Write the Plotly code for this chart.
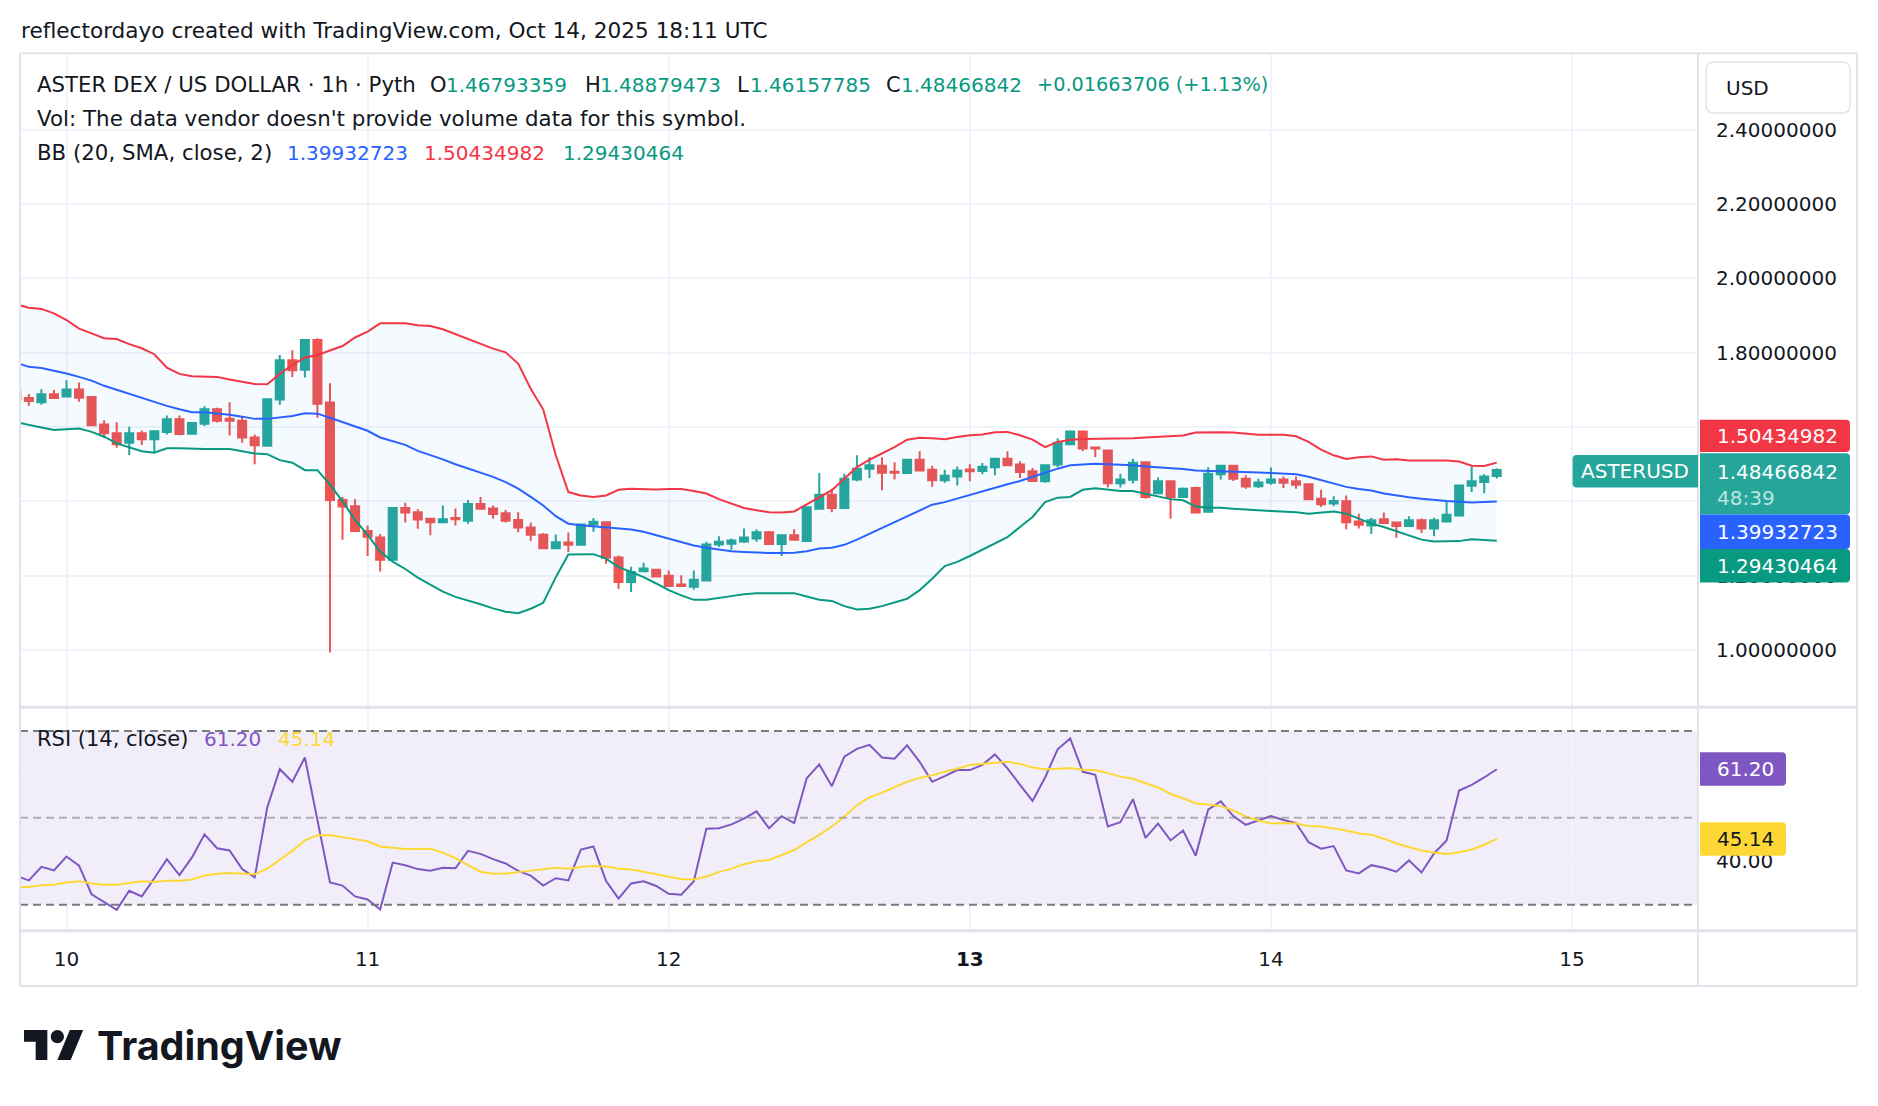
import plotly.graph_objects as go
import pandas as pd

W, H = 1878, 1106
FONT = "DejaVu Sans"
TXT = "#131722"
UP, DOWN = "#26a69a", "#ef5350"
BB_UP, BB_MID, BB_LO = "#f23645", "#2962ff", "#089981"
RSI_C, MA_C = "#7e57c2", "#fdd835"
GRID = "#f0f3fa"
FRAME = "#e0e3eb"

# ---------------- data (hourly bars, Oct 9 20:00 UTC -> Oct 14 18:00 UTC) ----------------
bar_start = "2025-10-09 20:00"

open_ = [1.695, 1.678, 1.667, 1.688, 1.682, 1.701, 1.681, 1.607, 1.583, 1.558,
         1.583, 1.567, 1.587, 1.621, 1.582, 1.609, 1.648, 1.622, 1.617, 1.572,
         1.550, 1.674, 1.780, 1.754, 1.834, 1.666, 1.404, 1.387, 1.320, 1.303,
         1.243, 1.382, 1.371, 1.353, 1.344, 1.355, 1.348, 1.393, 1.381, 1.368,
         1.350, 1.330, 1.310, 1.274, 1.289, 1.283, 1.338, 1.344, 1.249, 1.183,
         1.212, 1.216, 1.200, 1.176, 1.170, 1.187, 1.284, 1.286, 1.292, 1.300,
         1.317, 1.285, 1.309, 1.293, 1.380, 1.418, 1.382, 1.459, 1.488, 1.496,
         1.480, 1.476, 1.512, 1.485, 1.457, 1.467, 1.486, 1.482, 1.492, 1.515,
         1.499, 1.481, 1.454, 1.499, 1.554, 1.588, 1.545, 1.537, 1.449, 1.458,
         1.505, 1.422, 1.454, 1.412, 1.436, 1.372, 1.473, 1.496, 1.461, 1.441,
         1.450, 1.459, 1.454, 1.446, 1.407, 1.394, 1.400, 1.346, 1.335, 1.352,
         1.343, 1.334, 1.349, 1.327, 1.346, 1.362, 1.442, 1.452, 1.46793359]
high = [1.698, 1.689, 1.702, 1.700, 1.726, 1.720, 1.683, 1.618, 1.613, 1.601,
        1.591, 1.591, 1.631, 1.631, 1.613, 1.656, 1.652, 1.667, 1.628, 1.580,
        1.675, 1.794, 1.807, 1.837, 1.839, 1.718, 1.412, 1.406, 1.335, 1.312,
        1.384, 1.396, 1.379, 1.353, 1.389, 1.381, 1.404, 1.412, 1.389, 1.377,
        1.371, 1.343, 1.315, 1.311, 1.316, 1.338, 1.355, 1.346, 1.254, 1.224,
        1.235, 1.216, 1.214, 1.201, 1.214, 1.291, 1.306, 1.300, 1.327, 1.325,
        1.320, 1.309, 1.325, 1.384, 1.476, 1.434, 1.474, 1.524, 1.519, 1.519,
        1.505, 1.512, 1.535, 1.496, 1.485, 1.494, 1.500, 1.503, 1.515, 1.535,
        1.508, 1.490, 1.499, 1.570, 1.591, 1.591, 1.545, 1.539, 1.474, 1.515,
        1.507, 1.464, 1.457, 1.437, 1.439, 1.492, 1.496, 1.496, 1.470, 1.461,
        1.491, 1.467, 1.467, 1.446, 1.431, 1.414, 1.416, 1.367, 1.356, 1.370,
        1.343, 1.360, 1.354, 1.356, 1.400, 1.443, 1.494, 1.473, 1.48879473]
low = [1.673, 1.657, 1.660, 1.676, 1.682, 1.668, 1.604, 1.570, 1.544, 1.524,
       1.552, 1.533, 1.580, 1.578, 1.579, 1.603, 1.612, 1.577, 1.558, 1.500,
       1.550, 1.660, 1.735, 1.733, 1.625, 0.993, 1.297, 1.318, 1.253, 1.211,
       1.243, 1.343, 1.326, 1.309, 1.344, 1.335, 1.340, 1.380, 1.353, 1.343,
       1.317, 1.293, 1.272, 1.274, 1.264, 1.283, 1.318, 1.232, 1.164, 1.156,
       1.210, 1.198, 1.172, 1.170, 1.162, 1.187, 1.277, 1.270, 1.288, 1.291,
       1.283, 1.253, 1.297, 1.293, 1.379, 1.371, 1.382, 1.454, 1.463, 1.430,
       1.459, 1.476, 1.481, 1.439, 1.450, 1.443, 1.454, 1.473, 1.470, 1.495,
       1.463, 1.455, 1.450, 1.492, 1.553, 1.535, 1.519, 1.437, 1.437, 1.448,
       1.407, 1.422, 1.353, 1.412, 1.369, 1.372, 1.459, 1.455, 1.434, 1.436,
       1.445, 1.436, 1.434, 1.405, 1.385, 1.387, 1.325, 1.327, 1.312, 1.340,
       1.302, 1.334, 1.315, 1.306, 1.344, 1.361, 1.425, 1.422, 1.46157785]
close = [1.675, 1.670, 1.688, 1.678, 1.701, 1.679, 1.605, 1.583, 1.554, 1.583,
         1.567, 1.589, 1.621, 1.581, 1.611, 1.648, 1.617, 1.617, 1.572, 1.551,
         1.675, 1.780, 1.753, 1.834, 1.663, 1.404, 1.386, 1.320, 1.305, 1.243,
         1.382, 1.370, 1.351, 1.344, 1.352, 1.352, 1.393, 1.380, 1.366, 1.348,
         1.330, 1.310, 1.274, 1.290, 1.283, 1.338, 1.345, 1.248, 1.183, 1.210,
         1.219, 1.198, 1.172, 1.172, 1.189, 1.284, 1.291, 1.295, 1.303, 1.317,
         1.285, 1.309, 1.297, 1.384, 1.418, 1.382, 1.461, 1.488, 1.497, 1.477,
         1.477, 1.512, 1.483, 1.457, 1.469, 1.483, 1.481, 1.493, 1.515, 1.497,
         1.479, 1.455, 1.497, 1.558, 1.588, 1.542, 1.542, 1.449, 1.459, 1.504,
         1.412, 1.454, 1.412, 1.434, 1.370, 1.474, 1.496, 1.461, 1.440, 1.451,
         1.459, 1.450, 1.445, 1.406, 1.392, 1.401, 1.344, 1.337, 1.349, 1.342,
         1.334, 1.349, 1.327, 1.349, 1.364, 1.443, 1.454, 1.467, 1.48466842]

bb_upper = [1.930, 1.921, 1.918, 1.906, 1.888, 1.865, 1.852, 1.839, 1.837, 1.823,
            1.812, 1.796, 1.760, 1.743, 1.737, 1.735, 1.735, 1.728, 1.723, 1.716,
            1.715, 1.743, 1.767, 1.787, 1.794, 1.805, 1.818, 1.841, 1.857, 1.879,
            1.880, 1.879, 1.874, 1.872, 1.863, 1.850, 1.837, 1.822, 1.811, 1.801,
            1.771, 1.703, 1.647, 1.524, 1.425, 1.416, 1.412, 1.416, 1.431, 1.434,
            1.432, 1.432, 1.433, 1.433, 1.428, 1.421, 1.406, 1.394, 1.382, 1.376,
            1.371, 1.370, 1.373, 1.392, 1.412, 1.430, 1.461, 1.492, 1.512, 1.528,
            1.546, 1.566, 1.571, 1.570, 1.567, 1.573, 1.578, 1.580, 1.586, 1.587,
            1.578, 1.566, 1.546, 1.560, 1.566, 1.568, 1.568, 1.568, 1.569, 1.570,
            1.572, 1.573, 1.575, 1.577, 1.585, 1.586, 1.586, 1.585, 1.582, 1.579,
            1.579, 1.579, 1.575, 1.560, 1.539, 1.524, 1.514, 1.519, 1.521, 1.512,
            1.513, 1.510, 1.510, 1.510, 1.510, 1.507, 1.496, 1.495, 1.50434982]
bb_basis = [1.773, 1.762, 1.759, 1.752, 1.744, 1.735, 1.725, 1.711, 1.700, 1.688,
            1.678, 1.668, 1.657, 1.648, 1.640, 1.640, 1.637, 1.633, 1.628, 1.622,
            1.622, 1.626, 1.630, 1.637, 1.636, 1.625, 1.614, 1.601, 1.590, 1.572,
            1.561, 1.552, 1.536, 1.525, 1.513, 1.500, 1.489, 1.477, 1.466, 1.452,
            1.434, 1.412, 1.389, 1.360, 1.340, 1.336, 1.333, 1.329, 1.326, 1.324,
            1.318, 1.309, 1.299, 1.291, 1.281, 1.275, 1.270, 1.266, 1.264, 1.262,
            1.261, 1.261, 1.262, 1.266, 1.273, 1.275, 1.283, 1.297, 1.313, 1.328,
            1.344, 1.360, 1.376, 1.391, 1.398, 1.408, 1.418, 1.428, 1.438, 1.446,
            1.455, 1.466, 1.479, 1.488, 1.497, 1.500, 1.501, 1.500, 1.499, 1.497,
            1.494, 1.492, 1.490, 1.487, 1.483, 1.482, 1.482, 1.481, 1.480, 1.478,
            1.476, 1.475, 1.473, 1.466, 1.457, 1.449, 1.439, 1.433, 1.429, 1.421,
            1.415, 1.411, 1.407, 1.403, 1.401, 1.399, 1.397, 1.398, 1.39932723]
bb_lower = [1.613, 1.605, 1.599, 1.592, 1.594, 1.596, 1.587, 1.574, 1.556, 1.545,
            1.535, 1.531, 1.543, 1.543, 1.541, 1.541, 1.541, 1.541, 1.535, 1.529,
            1.527, 1.511, 1.504, 1.484, 1.484, 1.445, 1.400, 1.350, 1.310, 1.265,
            1.238, 1.218, 1.195, 1.175, 1.157, 1.143, 1.134, 1.123, 1.112, 1.103,
            1.099, 1.111, 1.127, 1.196, 1.257, 1.257, 1.258, 1.246, 1.223, 1.210,
            1.196, 1.179, 1.161, 1.147, 1.135, 1.135, 1.141, 1.145, 1.150, 1.153,
            1.153, 1.153, 1.153, 1.144, 1.135, 1.132, 1.118, 1.109, 1.111, 1.118,
            1.127, 1.138, 1.161, 1.192, 1.226, 1.237, 1.253, 1.270, 1.288, 1.304,
            1.331, 1.358, 1.398, 1.410, 1.412, 1.431, 1.435, 1.431, 1.428, 1.428,
            1.421, 1.415, 1.406, 1.403, 1.386, 1.383, 1.383, 1.380, 1.379, 1.376,
            1.374, 1.373, 1.371, 1.367, 1.371, 1.373, 1.367, 1.353, 1.340, 1.331,
            1.319, 1.309, 1.297, 1.292, 1.292, 1.293, 1.298, 1.297, 1.29430464]

rsi = [36.6, 35.6, 38.7, 37.9, 41.1, 39.0, 32.4, 30.6, 28.8, 33.2,
       31.9, 36.1, 40.5, 36.8, 40.9, 46.2, 43.0, 42.5, 38.2, 36.3,
       52.4, 61.2, 58.3, 63.9, 49.5, 35.1, 34.4, 31.9, 31.2, 28.9,
       39.7, 39.1, 38.2, 37.8, 38.5, 38.4, 42.4, 41.7, 40.5, 39.5,
       37.8, 36.7, 34.4, 36.1, 35.6, 42.7, 43.4, 35.5, 31.4, 34.9,
       35.4, 34.3, 32.5, 32.3, 35.4, 47.5, 47.6, 48.5, 49.8, 51.5,
       47.6, 50.4, 48.8, 59.1, 62.3, 57.3, 64.1, 65.9, 66.8, 63.9,
       63.6, 66.7, 62.9, 58.3, 59.6, 61.0, 61.0, 62.2, 64.6, 61.4,
       57.6, 53.9, 59.3, 65.8, 68.3, 60.6, 59.9, 48.0, 49.0, 54.3,
       45.4, 48.7, 44.8, 47.1, 41.3, 51.9, 53.8, 50.4, 48.4, 49.4,
       50.4, 49.5, 48.8, 44.4, 42.9, 43.5, 37.9, 37.2, 39.1, 38.5,
       37.6, 40.2, 37.4, 41.8, 44.8, 56.3, 57.6, 59.3, 61.20]
rsi_ma = [34.1, 34.1, 34.5, 34.6, 35.1, 35.4, 34.9, 34.6, 34.6, 35.0,
          35.4, 35.2, 35.5, 35.5, 35.8, 36.7, 37.1, 37.3, 37.2, 37.0,
          38.3, 40.3, 42.4, 44.8, 46.0, 46.0, 45.6, 45.1, 44.6, 43.4,
          43.1, 42.8, 42.8, 42.9, 42.0, 40.7, 39.1, 37.6, 37.1, 37.2,
          37.5, 37.8, 38.1, 38.5, 38.3, 38.7, 38.9, 38.8, 38.3, 38.1,
          37.6, 37.0, 36.5, 35.9, 35.8, 36.5, 37.5, 38.3, 39.3, 40.0,
          40.3, 41.4, 42.6, 44.4, 46.1, 48.0, 50.3, 52.9, 54.7, 55.8,
          57.0, 58.3, 59.2, 59.8, 60.6, 61.3, 62.2, 62.5, 62.7, 62.9,
          62.4, 61.6, 61.2, 61.3, 61.5, 61.1, 61.0, 60.3, 59.5, 59.0,
          58.0, 57.0, 55.5, 54.5, 53.3, 53.1, 52.7, 51.7, 50.3, 49.4,
          48.7, 48.8, 48.7, 48.1, 48.0, 47.6, 47.1, 46.4, 46.1, 45.2,
          44.1, 43.3, 42.5, 42.0, 41.7, 42.1, 42.7, 43.8, 45.14]

# tick labels (1.4 / 1.6 / 60 sit fully under the value labels in the original)
price_ticks = [1.0, 1.2, 1.4, 1.6, 1.8, 2.0, 2.2, 2.4]
price_ticktext = ["1.00000000", "1.20000000", "", "",
                  "1.80000000", "2.00000000", "2.20000000", "2.40000000"]
rsi_ticks = [40, 60]
rsi_ticktext = ["40.00", ""]
day_ticks = ["2025-10-10", "2025-10-11", "2025-10-12", "2025-10-13", "2025-10-14", "2025-10-15"]
day_ticktext = ["10", "11", "12", "<b>13</b>", "14", "15"]

last_open, last_high, last_low, last_close = "1.46793359", "1.48879473", "1.46157785", "1.48466842"
change_text = "+0.01663706 (+1.13%)"
bb_last = ["1.39932723", "1.50434982", "1.29430464"]
rsi_last, ma_last = "61.20", "45.14"

times = pd.date_range(bar_start, periods=len(close), freq="h")

# ---------------- geometry helpers (pixels -> paper) ----------------
def X(p):
    return p / W


def Y(p):
    return 1 - p / H


PL, PR, AXR = 20, 1698, 1857
TOP, SEP, RBOT, BOT = 53.3, 707.3, 930.7, 986
x_range = ["2025-10-09 20:17:37", "2025-10-15 10:02:24"]

fig = go.Figure()
fig.add_trace(go.Scatter(x=times, y=bb_upper, mode="lines", line=dict(color=BB_UP, width=2),
                         hoverinfo="skip", xaxis="x", yaxis="y"))
fig.add_trace(go.Scatter(x=times, y=bb_lower, mode="lines", line=dict(color=BB_LO, width=2),
                         fill="tonexty", fillcolor="rgba(33,150,243,0.05)",
                         hoverinfo="skip", xaxis="x", yaxis="y"))
fig.add_trace(go.Scatter(x=times, y=bb_basis, mode="lines", line=dict(color=BB_MID, width=2),
                         hoverinfo="skip", xaxis="x", yaxis="y"))
fig.add_trace(go.Candlestick(x=times, open=open_, high=high, low=low, close=close,
                             increasing=dict(line=dict(color=UP, width=2), fillcolor=UP),
                             decreasing=dict(line=dict(color=DOWN, width=2), fillcolor=DOWN),
                             whiskerwidth=0, xaxis="x", yaxis="y"))
fig.add_trace(go.Scatter(x=times, y=rsi, mode="lines", line=dict(color=RSI_C, width=2),
                         hoverinfo="skip", xaxis="x2", yaxis="y2"))
fig.add_trace(go.Scatter(x=times, y=rsi_ma, mode="lines", line=dict(color=MA_C, width=2),
                         hoverinfo="skip", xaxis="x2", yaxis="y2"))

shapes = []
# RSI band
shapes.append(dict(type="rect", xref="paper", yref="y2", x0=X(PL), x1=X(PR), y0=30, y1=70,
                   fillcolor="rgba(126,87,194,0.1)", line=dict(width=0), layer="below"))
for lvl, col in [(70, "#787b86"), (30, "#787b86"), (50, "rgba(120,123,134,0.55)")]:
    shapes.append(dict(type="line", xref="paper", yref="y2", x0=X(PL), x1=X(PR), y0=lvl, y1=lvl,
                       line=dict(color=col, width=2, dash="8px,5px"), layer="above"))


def hline(y, x0, x1, col=FRAME, w=2):
    shapes.append(dict(type="line", xref="paper", yref="paper", x0=X(x0), x1=X(x1), y0=Y(y), y1=Y(y),
                       line=dict(color=col, width=w), layer="above"))


def vline(x, y0, y1, col=FRAME, w=2):
    shapes.append(dict(type="line", xref="paper", yref="paper", x0=X(x), x1=X(x), y0=Y(y0), y1=Y(y1),
                       line=dict(color=col, width=w), layer="above"))


hline(TOP, PL, AXR)
hline(SEP, PL, AXR, w=3)
hline(RBOT, PL, AXR, w=3)
hline(BOT, PL, AXR)
vline(PL, TOP, BOT)
vline(PR, TOP, BOT)
vline(AXR, TOP, BOT)


def rrect(x0, y0, x1, y1, r, fill, line_col=None, left_round=False, right_round=True):
    rl = r if left_round else 0
    rr = r if right_round else 0
    pts = (f"M {X(x0 + rl)},{Y(y0)} L {X(x1 - rr)},{Y(y0)} "
           f"Q {X(x1)},{Y(y0)} {X(x1)},{Y(y0 + rr)} L {X(x1)},{Y(y1 - rr)} "
           f"Q {X(x1)},{Y(y1)} {X(x1 - rr)},{Y(y1)} L {X(x0 + rl)},{Y(y1)} "
           f"Q {X(x0)},{Y(y1)} {X(x0)},{Y(y1 - rl)} L {X(x0)},{Y(y0 + rl)} "
           f"Q {X(x0)},{Y(y0)} {X(x0 + rl)},{Y(y0)} Z")
    shapes.append(dict(type="path", xref="paper", yref="paper", path=pts, fillcolor=fill,
                       line=dict(color=line_col or fill, width=1.5 if line_col else 0), layer="above"))


# price axis labels
rrect(1700, 419.7, 1850, 452.1, 4, BB_UP)
rrect(1700, 453.3, 1850, 514.6, 4, UP)
rrect(1700, 514.6, 1850, 549.0, 4, BB_MID)
rrect(1700, 549.0, 1850, 582.6, 4, BB_LO)
rrect(1572.6, 455, 1698, 487.5, 4, UP, left_round=True, right_round=False)
# RSI axis labels
rrect(1700, 752.3, 1786, 785.7, 4, RSI_C)
rrect(1700, 822.3, 1786, 855.7, 4, MA_C)
# USD box
rrect(1706, 62, 1850, 113, 8, "white", line_col=FRAME, left_round=True)

# TradingView logo icon
s, ox, oy = 1.667, 24, 1023.3


def lp(u, v):
    return f"{X(ox + u * s)},{Y(oy + v * s)}"


shapes.append(dict(type="path", xref="paper", yref="paper", fillcolor=TXT, line=dict(width=0),
                   path=f"M {lp(14,22)} L {lp(7,22)} L {lp(7,11)} L {lp(0,11)} L {lp(0,4)} L {lp(14,4)} Z"))
shapes.append(dict(type="path", xref="paper", yref="paper", fillcolor=TXT, line=dict(width=0),
                   path=f"M {lp(28,22)} L {lp(20,22)} L {lp(27.5,4)} L {lp(35.5,4)} Z"))
shapes.append(dict(type="circle", xref="paper", yref="paper", fillcolor=TXT, line=dict(width=0),
                   x0=X(ox + 16 * s), x1=X(ox + 24 * s), y0=Y(oy + 4 * s), y1=Y(oy + 12 * s)))

ann = []


def txt(x, y, s_, color=TXT, size=20, anchor="left", family=FONT):
    ann.append(dict(x=X(x), y=Y(y), xref="paper", yref="paper", text=s_, showarrow=False,
                    xanchor=anchor, yanchor="middle", borderpad=0,
                    font=dict(family=family, size=size, color=color)))


VAL = "#089981"
txt(20, 30.5, "reflectordayo created with TradingView.com, Oct 14, 2025 18:11 UTC", size=21.6)
txt(36, 85, "ASTER DEX / US DOLLAR · 1h · Pyth", size=21.3)
txt(429, 85, "O", size=21)
txt(445, 85, last_open, VAL)
txt(584, 85, "H", size=21)
txt(599, 85, last_high, VAL)
txt(736, 85, "L", size=21)
txt(749, 85, last_low, VAL)
txt(885, 85, "C", size=21)
txt(900, 85, last_close, VAL)
txt(1036, 85, change_text, VAL, size=19.3)
txt(36, 118.3, "Vol: The data vendor doesn't provide volume data for this symbol.", size=21.4)
txt(36, 153, "BB (20, SMA, close, 2)", size=21.3)
txt(286, 153, bb_last[0], BB_MID)
txt(423, 153, bb_last[1], BB_UP)
txt(562, 153, bb_last[2], BB_LO)
txt(36, 739, "RSI (14, close)", size=21)
txt(203, 739, rsi_last, RSI_C)
txt(277, 739, ma_last, MA_C)

# axis labels text
txt(1716, 436, bb_last[1], "white")
txt(1716, 472.3, last_close, "white")
txt(1716, 498, "48:39", "rgba(255,255,255,0.7)")
txt(1716, 531.6, bb_last[0], "white")
txt(1716, 566, bb_last[2], "white")
txt(1635, 471, "ASTERUSD", "white", anchor="center")
txt(1716, 769, rsi_last, "white")
txt(1716, 839, ma_last, TXT)
txt(1725, 87.6, "USD")

# logo wordmark
txt(96, 1046, "<b>TradingView</b>", TXT, size=39.5, family="Inter")

fig.update_layout(
    width=W, height=H, margin=dict(l=0, r=0, t=0, b=0, pad=0),
    paper_bgcolor="white", plot_bgcolor="rgba(0,0,0,0)",
    showlegend=False, boxgap=0.2, boxgroupgap=0.2,
    font=dict(family=FONT, size=20, color=TXT),
    xaxis=dict(domain=[X(PL), X(PR)], anchor="y", type="date", range=x_range,
               tickvals=day_ticks, showticklabels=False, showgrid=True, gridcolor=GRID,
               gridwidth=2, zeroline=False, showline=False, ticks="",
               rangeslider=dict(visible=False)),
    yaxis=dict(domain=[Y(SEP), Y(TOP)], anchor="x", side="right", range=[0.8458, 2.6058],
               tickvals=price_ticks, ticktext=price_ticktext, showgrid=True, gridcolor=GRID,
               gridwidth=2, zeroline=False, showline=False, ticks="", ticklabelstandoff=17,
               tickfont=dict(family=FONT, size=20, color=TXT)),
    xaxis2=dict(domain=[X(PL), X(PR)], anchor="y2", type="date", range=x_range,
                tickvals=day_ticks, ticktext=day_ticktext, showgrid=True, gridcolor=GRID,
                gridwidth=2, zeroline=False, showline=False, ticks="", ticklabelstandoff=14,
                tickfont=dict(family=FONT, size=20, color=TXT)),
    yaxis2=dict(domain=[Y(RBOT), Y(SEP)], anchor="x2", side="right", range=[24.01, 75.46],
                tickvals=rsi_ticks, ticktext=rsi_ticktext, showgrid=True, gridcolor=GRID,
                gridwidth=2, zeroline=False, showline=False, ticks="", ticklabelstandoff=17,
                tickfont=dict(family=FONT, size=20, color=TXT)),
    shapes=shapes, annotations=ann,
)

fig.write_html("out.html")
